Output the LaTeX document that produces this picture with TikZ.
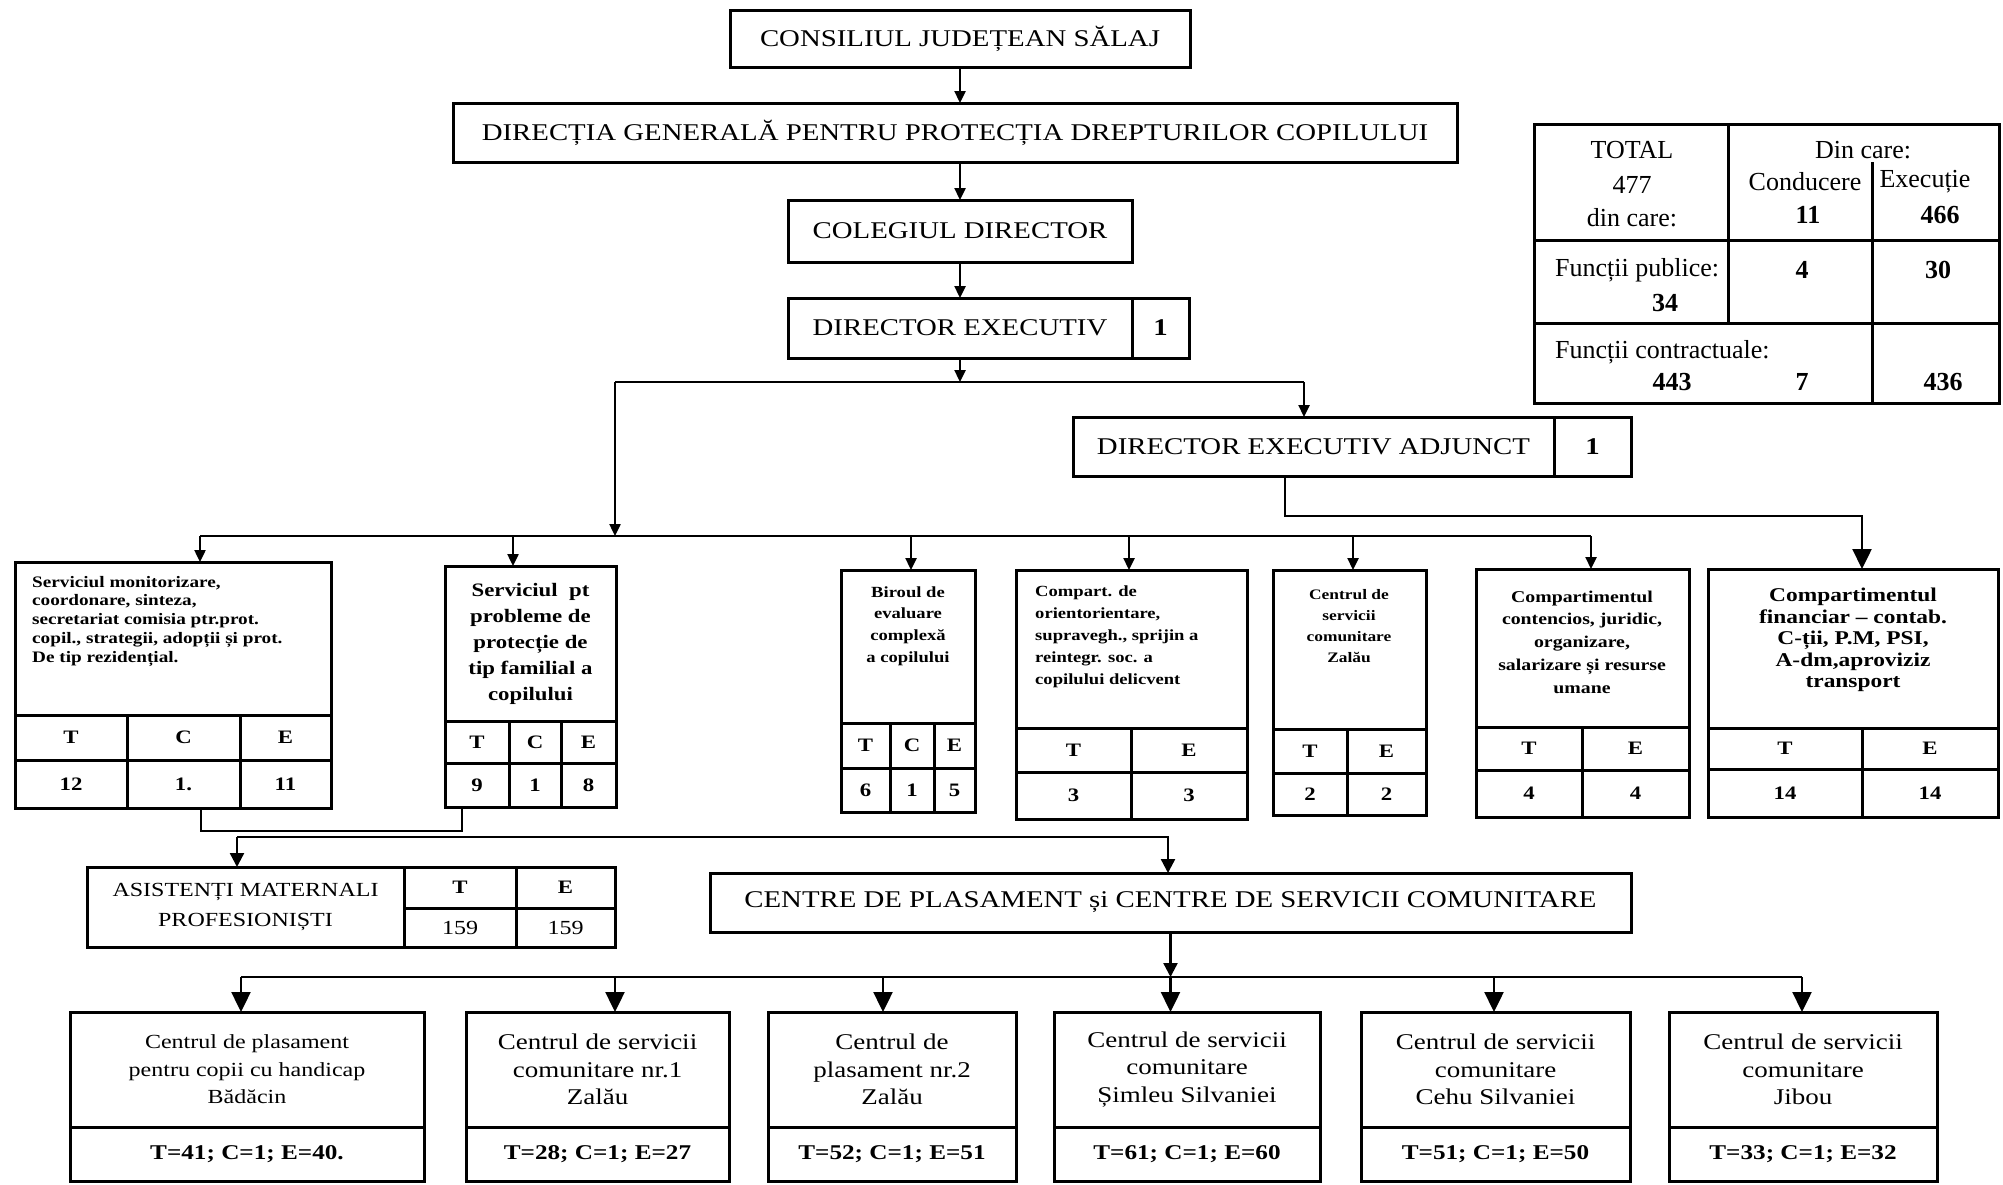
\documentclass[tikz,border=0pt]{standalone}
\usepackage{fontspec}
\setmainfont{Liberation Serif}
\newfontfamily\cs{Liberation Serif}[FakeStretch=1.2]
\usetikzlibrary{arrows.meta}
\begin{document}
\begin{tikzpicture}[x=1pt,y=-1pt,
  bx/.style={draw, line width=3pt, inner sep=0pt, outer sep=0pt, anchor=north west, align=center},
  cl/.style={bx, font=\cs\bfseries\fontsize{19}{22}\selectfont},
  con/.style={line width=2.4pt},
  arr/.style={con, -{Triangle[width=11pt,length=12pt]}},
  marr/.style={con, -{Triangle[width=14pt,length=14pt]}},
  barr/.style={con, -{Triangle[width=19pt,length=20pt]}},
  ttl/.style={font=\cs\fontsize{24}{28}\selectfont},
  ttlb/.style={font=\cs\bfseries\fontsize{24}{28}\selectfont},
  mid/.style={inner sep=0pt, align=center},
  bot/.style={bx, font=\cs\fontsize{22.5}{27.5}\selectfont},
  botn/.style={bx, font=\cs\bfseries\fontsize{21}{24}\selectfont},
  tt/.style={inner sep=0pt, font=\fontsize{26}{30}\selectfont},
  ttb/.style={inner sep=0pt, font=\bfseries\fontsize{26}{30}\selectfont}
]
\fill[white] (0,0) rectangle (2003,1184);
\useasboundingbox (0,0) rectangle (2003,1184);

% ---------- top chain
\node[bx, ttl, minimum width=460pt, minimum height=57pt] (cons) at (730,10) {CONSILIUL JUDEȚEAN SĂLAJ};
\node[bx, ttl, minimum width=1004pt, minimum height=59pt] (dir) at (453,103) {DIRECȚIA GENERALĂ PENTRU PROTECȚIA DREPTURILOR COPILULUI};
\node[bx, ttl, minimum width=344pt, minimum height=62pt] (coleg) at (788,200) {COLEGIUL DIRECTOR};
\node[bx, ttl, minimum width=344pt, minimum height=60pt] (de) at (788,298) {DIRECTOR EXECUTIV};
\node[bx, ttlb, minimum width=57pt, minimum height=60pt] (de1) at (1132,298) {1};
\node[bx, ttl, minimum width=481pt, minimum height=59pt] (dea) at (1073,417) {DIRECTOR EXECUTIV ADJUNCT};
\node[bx, ttlb, minimum width=77pt, minimum height=59pt] (dea1) at (1554,417) {1};

% ---------- summary table
\node[bx, minimum width=465pt, minimum height=279pt] (tot) at (1534,124) {};
\draw[line width=3pt] (1534,240) -- (1999,240);
\draw[line width=3pt] (1534,323) -- (1999,323);
\draw[line width=3pt] (1728,124) -- (1728,323);
\draw[line width=3pt] (1872,162) -- (1872,403);
\node[tt] (tA) at (1632,150) {TOTAL};
\node[tt] (tB) at (1632,185) {477};
\node[tt] (tC) at (1632,218) {din care:};
\node[tt] (tD) at (1863,150) {Din care:};
\node[tt] (tE) at (1805,182) {Conducere};
\node[tt] (tF) at (1925,182) {Execuție};
\node[ttb] (tG) at (1808,215) {11};
\node[ttb] (tH) at (1940,215) {466};
\node[tt, anchor=west] (tI) at (1555,270) {Funcții publice:};
\node[ttb] (tJ) at (1665,303) {34};
\node[ttb] (tK) at (1802,270) {4};
\node[ttb] (tL) at (1938,270) {30};
\node[tt, anchor=west] (tM) at (1555,352) {Funcții contractuale:};
\node[ttb] (tN) at (1672,382) {443};
\node[ttb] (tO) at (1802,382) {7};
\node[ttb] (tP) at (1943,382) {436};

% ---------- middle boxes
% s1
\node[bx, minimum width=316pt, minimum height=153pt] (s1) at (15,562) {};
\node[mid, align=left, anchor=west, font=\cs\bfseries\fontsize{16}{18.75}\selectfont] (s1t) at (32,621)
  {Serviciul monitorizare,\\coordonare, sinteza,\\secretariat comisia ptr.prot.\\copil., strategii, adopții și prot.\\De tip rezidențial.};
\node[cl, minimum width=112pt, minimum height=45pt] (s1a) at (15,715) {T};
\node[cl, minimum width=113pt, minimum height=45pt] (s1b) at (127,715) {C};
\node[cl, minimum width=91pt, minimum height=45pt] (s1c) at (240,715) {E};
\node[cl, minimum width=112pt, minimum height=48pt] (s1d) at (15,760) {12};
\node[cl, minimum width=113pt, minimum height=48pt] (s1e) at (127,760) {1.};
\node[cl, minimum width=91pt, minimum height=48pt] (s1f) at (240,760) {11};
% s2
\node[bx, minimum width=171pt, minimum height=155pt, font=\cs\bfseries\fontsize{19}{26}\selectfont] (s2) at (445,566)
  {Serviciul\ \ pt\\probleme de\\protecție de\\tip familial a\\copilului};
\node[cl, minimum width=64pt, minimum height=42pt] (s2a) at (445,721) {T};
\node[cl, minimum width=52pt, minimum height=42pt] (s2b) at (509,721) {C};
\node[cl, minimum width=55pt, minimum height=42pt] (s2c) at (561,721) {E};
\node[cl, minimum width=64pt, minimum height=44pt] (s2d) at (445,763) {9};
\node[cl, minimum width=52pt, minimum height=44pt] (s2e) at (509,763) {1};
\node[cl, minimum width=55pt, minimum height=44pt] (s2f) at (561,763) {8};
% biroul
\node[bx, minimum width=134pt, minimum height=153pt] (bir) at (841,570) {};
\node[mid, font=\cs\bfseries\fontsize{15.5}{21.7}\selectfont] (birt) at (908,626)
  {Biroul de\\evaluare\\complexă\\a copilului};
\node[cl, minimum width=49pt, minimum height=45pt] (bira) at (841,723) {T};
\node[cl, minimum width=44pt, minimum height=45pt] (birb) at (890,723) {C};
\node[cl, minimum width=41pt, minimum height=45pt] (birc) at (934,723) {E};
\node[cl, minimum width=49pt, minimum height=44pt] (bird) at (841,768) {6};
\node[cl, minimum width=44pt, minimum height=44pt] (bire) at (890,768) {1};
\node[cl, minimum width=41pt, minimum height=44pt] (birf) at (934,768) {5};
% compart
\node[bx, minimum width=231pt, minimum height=158pt] (comp) at (1016,570) {};
\node[mid, align=left, anchor=west, font=\cs\bfseries\fontsize{15.5}{22}\selectfont] (compt) at (1035,637)
  {Compart. de\\orientorientare,\\supravegh., sprijin a\\reintegr. soc. a\\copilului delicvent};
\node[cl, minimum width=115pt, minimum height=44pt] (compa) at (1016,728) {T};
\node[cl, minimum width=116pt, minimum height=44pt] (compb) at (1131,728) {E};
\node[cl, minimum width=115pt, minimum height=47pt] (compc) at (1016,772) {3};
\node[cl, minimum width=116pt, minimum height=47pt] (compd) at (1131,772) {3};
% centrul zalau
\node[bx, minimum width=153pt, minimum height=159pt] (cz) at (1273,570) {};
\node[mid, font=\cs\bfseries\fontsize{14.5}{21}\selectfont] (czt) at (1349,626)
  {Centrul de\\servicii\\comunitare\\Zalău};
\node[cl, minimum width=74pt, minimum height=44pt] (cza) at (1273,729) {T};
\node[cl, minimum width=79pt, minimum height=44pt] (czb) at (1347,729) {E};
\node[cl, minimum width=74pt, minimum height=42pt] (czc) at (1273,773) {2};
\node[cl, minimum width=79pt, minimum height=42pt] (czd) at (1347,773) {2};
% contencios
\node[bx, minimum width=213pt, minimum height=158pt] (cont) at (1476,569) {};
\node[mid, font=\cs\bfseries\fontsize{16.5}{22.7}\selectfont] (contt) at (1582,642)
  {Compartimentul\\contencios, juridic,\\organizare,\\salarizare și resurse\\umane};
\node[cl, minimum width=106pt, minimum height=43pt] (conta) at (1476,727) {T};
\node[cl, minimum width=107pt, minimum height=43pt] (contb) at (1582,727) {E};
\node[cl, minimum width=106pt, minimum height=47pt] (contc) at (1476,770) {4};
\node[cl, minimum width=107pt, minimum height=47pt] (contd) at (1582,770) {4};
% financiar
\node[bx, minimum width=290pt, minimum height=159pt] (fin) at (1708,569) {};
\node[mid, font=\cs\bfseries\fontsize{19.5}{21.5}\selectfont] (fint) at (1853,640)
  {Compartimentul\\financiar – contab.\\C-ții, P.M, PSI,\\A-dm,aproviziz\\transport};
\node[cl, minimum width=154pt, minimum height=41pt] (fina) at (1708,728) {T};
\node[cl, minimum width=136pt, minimum height=41pt] (finb) at (1862,728) {E};
\node[cl, minimum width=154pt, minimum height=48pt] (finc) at (1708,769) {14};
\node[cl, minimum width=136pt, minimum height=48pt] (find) at (1862,769) {14};

% ---------- asistenti & centre
\node[bx, minimum width=317pt, minimum height=80pt, font=\cs\fontsize{20}{30}\selectfont] (asis) at (87,867)
  {ASISTENȚI MATERNALI\\PROFESIONIȘTI};
\node[cl, minimum width=112pt, minimum height=41pt] (asa) at (404,867) {T};
\node[cl, minimum width=99pt, minimum height=41pt] (asb) at (516,867) {E};
\node[cl, font=\cs\fontsize{20}{22}\selectfont, minimum width=112pt, minimum height=39pt] (asc) at (404,908) {159};
\node[cl, font=\cs\fontsize{20}{22}\selectfont, minimum width=99pt, minimum height=39pt] (asd) at (516,908) {159};
\node[bx, ttl, minimum width=921pt, minimum height=59pt] (centre) at (710,873)
  {CENTRE DE PLASAMENT și CENTRE DE SERVICII COMUNITARE};

% ---------- bottom boxes
\node[bot, font=\cs\fontsize{20}{27.5}\selectfont, minimum width=354pt, minimum height=115pt] (b1) at (70,1012)
  {Centrul de plasament\\pentru copii cu handicap\\Bădăcin};
\node[botn, minimum width=354pt, minimum height=54pt] (b1n) at (70,1127) {T=41; C=1; E=40.};
\node[bot, minimum width=263pt, minimum height=115pt] (b2) at (466,1012)
  {Centrul de servicii\\comunitare nr.1\\Zalău};
\node[botn, minimum width=263pt, minimum height=54pt] (b2n) at (466,1127) {T=28; C=1; E=27};
\node[bot, minimum width=248pt, minimum height=115pt] (b3) at (768,1012)
  {Centrul de\\plasament nr.2\\Zalău};
\node[botn, minimum width=248pt, minimum height=54pt] (b3n) at (768,1127) {T=52; C=1; E=51};
\node[bot, minimum width=266pt, minimum height=115pt] (b4) at (1054,1012)
  {Centrul de servicii\\comunitare\\Șimleu Silvaniei};
\node[botn, minimum width=266pt, minimum height=54pt] (b4n) at (1054,1127) {T=61; C=1; E=60};
\node[bot, minimum width=269pt, minimum height=115pt] (b5) at (1361,1012)
  {Centrul de servicii\\comunitare\\Cehu Silvaniei};
\node[botn, minimum width=269pt, minimum height=54pt] (b5n) at (1361,1127) {T=51; C=1; E=50};
\node[bot, minimum width=268pt, minimum height=115pt] (b6) at (1669,1012)
  {Centrul de servicii\\comunitare\\Jibou};
\node[botn, minimum width=268pt, minimum height=54pt] (b6n) at (1669,1127) {T=33; C=1; E=32};

% ---------- connectors
\draw[arr] (cons.south) -- (cons.south |- dir.north);
\draw[arr] (coleg.north |- dir.south) -- (coleg.north);
\draw[arr] (coleg.south) -- (de.north);
\coordinate (j1) at (960,382);
\coordinate (jL) at (615,382);
\coordinate (jR) at (1304,382);
\draw[arr] (de.south) -- (j1);
\draw[con] (jL) -- (jR);
\coordinate (bL) at (200,536);
\coordinate (bR) at (1591,536);
\draw[con] (bL) -- (bR);
\draw[arr] (jL) -- (jL |- bL);
\draw[arr] (jR) -- (jR |- dea.north);
\coordinate (k1) at (1285,516);
\coordinate (k2) at (1862,516);
\draw[barr] (dea.south -| k1) -- (k1) -- (k2) -- (k2 |- fin.north);
\foreach \x/\n in {200/s1,513/s2,911/bir,1129/comp,1353/cz,1591/cont}{
  \coordinate (t\n) at (\x,536);
  \draw[arr] (t\n) -- (t\n |- \n.north);
}
\coordinate (u1) at (201,831);
\coordinate (u2) at (462,831);
\draw[con] (u1 |- s1e.south) -- (u1) -- (u2) -- (u2 |- s2d.south);
\coordinate (w1) at (237,837);
\coordinate (w2) at (1168,837);
\draw[marr] (w1) -- (w2) -- (w2 |- centre.north);
\draw[marr] (w1) -- (w1 |- asis.north);
\coordinate (c1) at (241,977);
\coordinate (c2) at (1802,977);
\draw[con] (c1) -- (c2);
\draw[marr] (centre.south) -- (centre.south |- c1);
\foreach \x/\n in {241/b1,615/b2,883/b3,1494/b5,1802/b6}{
  \coordinate (t\n) at (\x,977);
  \draw[barr] (t\n) -- (t\n |- \n.north);
}
\draw[barr] (centre.south |- c1) -- (centre.south |- b4.north);
\end{tikzpicture}
\end{document}
